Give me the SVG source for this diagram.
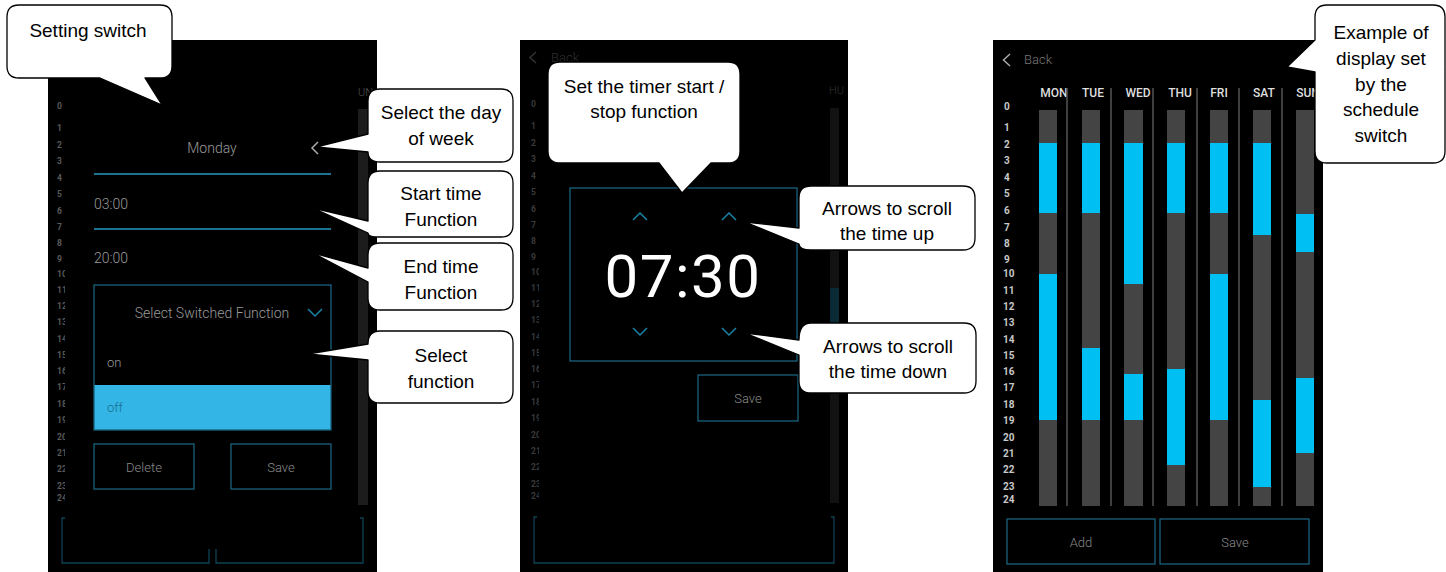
<svg xmlns="http://www.w3.org/2000/svg" width="1446" height="572" viewBox="0 0 1446 572">
<defs>
<style>
.scr{fill:#000}
.ui{font-family:Roboto,"Liberation Sans",sans-serif;font-weight:300}
.tl{stroke:#1c7391;stroke-width:2;fill:none}
.ob{stroke:#17627c;stroke-width:1.3;fill:none}
.fr{stroke:#0f4356;stroke-width:1.3;fill:none}
.chev{stroke:#1a84a8;stroke-width:1.5;fill:none}
.num{font-family:Roboto,"Liberation Sans",sans-serif;font-weight:700}
.nl{font-size:8.5px;fill:#5a5a5a}
.nm{font-size:8.5px;fill:#3a3a3a}
.nr{font-size:10px;fill:#c8c8c8}
.day{font-family:Roboto,"Liberation Sans",sans-serif;font-weight:500;font-size:12px;fill:#dedede;text-anchor:middle}
.sep{stroke:#555;stroke-width:1.5}
.bg{fill:#444}
.bl{fill:#00bff2}
.co{fill:#fff;stroke:#000;stroke-width:1.3;stroke-linejoin:round}
.ct{font-family:"Liberation Sans",Arial,sans-serif;font-size:19px;fill:#000;text-anchor:middle}
</style>
<clipPath id="cl"><rect x="48" y="95" width="17" height="415"/></clipPath>
<clipPath id="cm"><rect x="520" y="95" width="19" height="415"/></clipPath>
</defs>
<rect width="1446" height="572" fill="#fff"/>

<!-- Left panel -->
<g id="panel-setting">
<rect class="scr" x="48" y="40" width="329" height="532"/>
<g class="num nl" clip-path="url(#cl)">
<text x="57" y="109">0</text><text x="57" y="131">1</text><text x="57" y="148">2</text><text x="57" y="164">3</text><text x="57" y="181">4</text><text x="57" y="197">5</text><text x="57" y="214">6</text><text x="57" y="230">7</text><text x="57" y="246">8</text><text x="57" y="262">9</text><text x="57" y="277">10</text><text x="57" y="293">11</text><text x="57" y="309">12</text><text x="57" y="325">13</text><text x="57" y="342">14</text><text x="57" y="358">15</text><text x="57" y="374">16</text><text x="57" y="390">17</text><text x="57" y="407">18</text><text x="57" y="423">19</text><text x="57" y="440">20</text><text x="57" y="456">21</text><text x="57" y="472">22</text><text x="57" y="489">23</text><text x="57" y="501">24</text>
</g>
<text class="ui" x="358" y="96" font-size="11" fill="#555" font-weight="400">UN</text>
<rect x="358" y="109" width="10" height="396" fill="#1c1c1c"/>
<text class="ui" x="212" y="153" font-size="14" fill="#9a9a9a" text-anchor="middle">Monday</text>
<path d="M318,142 L312,148 L318,154" stroke="#aaa" stroke-width="1.5" fill="none"/>
<line class="tl" x1="94" y1="174" x2="331" y2="174"/>
<text class="ui" x="94" y="209" font-size="14" fill="#9a9a9a">03:00</text>
<line class="tl" x1="94" y1="229" x2="331" y2="229"/>
<text class="ui" x="94" y="263" font-size="14" fill="#9a9a9a">20:00</text>
<rect x="94" y="385" width="237" height="45" fill="#33b5e5"/>
<rect class="ob" x="94" y="285" width="237" height="145"/>
<text class="ui" x="212" y="318" font-size="14" fill="#9a9a9a" text-anchor="middle">Select Switched Function</text>
<path class="chev" d="M308,309 L315,316 L322,309"/>
<text class="ui" x="107" y="367" font-size="13" fill="#9a9a9a">on</text>
<text class="ui" x="107" y="412" font-size="13" fill="#1a6f90">off</text>
<rect class="ob" x="94" y="444" width="100" height="45"/>
<text class="ui" x="144" y="472" font-size="13" fill="#8a8a8a" text-anchor="middle">Delete</text>
<rect class="ob" x="231" y="444" width="100" height="45"/>
<text class="ui" x="281" y="472" font-size="13" fill="#8a8a8a" text-anchor="middle">Save</text>
<path class="fr" d="M65,518 H62 V563 H209 V549 M216,549 V563 H363 V518 H360"/>
</g>

<!-- Middle panel -->
<g id="panel-timer">
<rect class="scr" x="520" y="40" width="328" height="532"/>
<path d="M536,52 L530,57.5 L536,63" stroke="#333" stroke-width="1.5" fill="none"/>
<text class="ui" x="551" y="62" font-size="13" fill="#2e2e2e" font-weight="400">Back</text>
<g class="num nm" clip-path="url(#cm)">
<text x="531" y="107">0</text><text x="531" y="129">1</text><text x="531" y="146">2</text><text x="531" y="162">3</text><text x="531" y="179">4</text><text x="531" y="195">5</text><text x="531" y="212">6</text><text x="531" y="228">7</text><text x="531" y="244">8</text><text x="531" y="260">9</text><text x="531" y="275">10</text><text x="531" y="291">11</text><text x="531" y="307">12</text><text x="531" y="323">13</text><text x="531" y="340">14</text><text x="531" y="356">15</text><text x="531" y="372">16</text><text x="531" y="388">17</text><text x="531" y="405">18</text><text x="531" y="421">19</text><text x="531" y="438">20</text><text x="531" y="454">21</text><text x="531" y="470">22</text><text x="531" y="487">23</text><text x="531" y="499">24</text>
</g>
<text class="ui" x="829" y="94" font-size="11" fill="#333" font-weight="400">HU</text>
<rect x="830" y="108" width="9" height="395" fill="#121212"/>
<rect x="830" y="288" width="9" height="42" fill="#0a2a35"/>
<rect class="ob" x="570" y="188" width="227" height="173"/>
<path class="chev" d="M633,220 L640,213 L647,220 M722,220 L729,213 L736,220"/>
<text x="683" y="297" font-family="Roboto,'Liberation Sans',sans-serif" font-weight="400" font-size="60" fill="#fff" text-anchor="middle" letter-spacing="1.5">07:30</text>
<path class="chev" d="M633,328 L640,335 L647,328 M722,328 L729,335 L736,328"/>
<rect class="ob" x="698" y="375" width="100" height="46"/>
<text class="ui" x="748" y="403" font-size="13" fill="#8a8a8a" text-anchor="middle">Save</text>
<path class="fr" d="M537,517 H534 V563 H834 V517 H831"/>
</g>

<!-- Right panel -->
<g id="panel-schedule">
<rect class="scr" x="993" y="40" width="330" height="532"/>
<path d="M1010,54 L1003.5,60 L1010,66" stroke="#aaa" stroke-width="1.5" fill="none"/>
<text class="ui" x="1024" y="64" font-size="13" fill="#777" font-weight="400">Back</text>
<text class="day" x="1054" y="97">MON</text><text class="day" x="1093" y="97">TUE</text><text class="day" x="1138" y="97">WED</text><text class="day" x="1180" y="97">THU</text><text class="day" x="1219" y="97">FRI</text><text class="day" x="1264" y="97">SAT</text><text class="day" x="1308" y="97">SUN</text>
<g class="num nr">
<text x="1004" y="110">0</text><text x="1004" y="131">1</text><text x="1004" y="148">2</text><text x="1004" y="164">3</text><text x="1004" y="181">4</text><text x="1004" y="197">5</text><text x="1004" y="214">6</text><text x="1004" y="231">7</text><text x="1004" y="247">8</text><text x="1004" y="263">9</text><text x="1003" y="277">10</text><text x="1003" y="294">11</text><text x="1003" y="310">12</text><text x="1003" y="326">13</text><text x="1003" y="343">14</text><text x="1003" y="359">15</text><text x="1003" y="375">16</text><text x="1003" y="391">17</text><text x="1003" y="408">18</text><text x="1003" y="424">19</text><text x="1003" y="441">20</text><text x="1003" y="457">21</text><text x="1003" y="473">22</text><text x="1003" y="490">23</text><text x="1003" y="503">24</text>
</g>
<g>
<line class="sep" x1="1067" y1="88" x2="1067" y2="506"/><line class="sep" x1="1111" y1="88" x2="1111" y2="506"/><line class="sep" x1="1153" y1="88" x2="1153" y2="506"/><line class="sep" x1="1197" y1="88" x2="1197" y2="506"/><line class="sep" x1="1239" y1="88" x2="1239" y2="506"/><line class="sep" x1="1282" y1="88" x2="1282" y2="506"/>
</g>
<g>
<rect class="bg" x="1039" y="110" width="18" height="396"/><rect class="bl" x="1039" y="143" width="18" height="70"/><rect class="bl" x="1039" y="274" width="18" height="146"/>
<rect class="bg" x="1082" y="110" width="18" height="396"/><rect class="bl" x="1082" y="143" width="18" height="70"/><rect class="bl" x="1082" y="348" width="18" height="72"/>
<rect class="bg" x="1124" y="110" width="19" height="396"/><rect class="bl" x="1124" y="143" width="19" height="141"/><rect class="bl" x="1124" y="374" width="19" height="46"/>
<rect class="bg" x="1167" y="110" width="18" height="396"/><rect class="bl" x="1167" y="143" width="18" height="70"/><rect class="bl" x="1167" y="369" width="18" height="96"/>
<rect class="bg" x="1210" y="110" width="18" height="396"/><rect class="bl" x="1210" y="143" width="18" height="70"/><rect class="bl" x="1210" y="274" width="18" height="146"/>
<rect class="bg" x="1253" y="110" width="18" height="396"/><rect class="bl" x="1253" y="143" width="18" height="92"/><rect class="bl" x="1253" y="400" width="18" height="87"/>
<rect class="bg" x="1296" y="110" width="18" height="396"/><rect class="bl" x="1296" y="214" width="18" height="38"/><rect class="bl" x="1296" y="378" width="18" height="75"/>
</g>
<rect class="ob" x="1007" y="519" width="148" height="45"/>
<text class="ui" x="1081" y="547" font-size="13" fill="#888" text-anchor="middle">Add</text>
<rect class="ob" x="1160" y="519" width="149" height="45"/>
<text class="ui" x="1235" y="547" font-size="13" fill="#888" text-anchor="middle">Save</text>
</g>

<g id="connectors"></g>

<!-- Callouts -->
<g id="callout-setting-switch">
<path class="co" d="M19,5 H160 Q172,5 172,17 V66 Q172,78 160,78 H145 L162,105 L100,78 H19 Q7,78 7,66 V17 Q7,5 19,5 Z"/>
<text class="ct" x="88" y="37">Setting switch</text>
</g>
<g id="callout-day">
<path class="co" d="M380,89 H501 Q513,89 513,101 V150 Q513,162 501,162 H380 Q368,162 368,152 L316,147 L368,134 V101 Q368,89 380,89 Z"/>
<text class="ct" x="441" y="119">Select the day</text>
<text class="ct" x="441" y="145">of week</text>
</g>
<g id="callout-start">
<path class="co" d="M380,171 H501 Q513,171 513,183 V225 Q513,237 501,237 H378 Q368,237 368,233 L313,208 L368,221 V183 Q368,171 380,171 Z"/>
<text class="ct" x="441" y="200">Start time</text>
<text class="ct" x="441" y="226">Function</text>
</g>
<g id="callout-end">
<path class="co" d="M380,243 H501 Q513,243 513,255 V298 Q513,310 501,310 H380 Q368,310 368,298 V282 L313,253 L368,268 V255 Q368,243 380,243 Z"/>
<text class="ct" x="441" y="273">End time</text>
<text class="ct" x="441" y="299">Function</text>
</g>
<g id="callout-function">
<path class="co" d="M380,331 H501 Q513,331 513,343 V391 Q513,403 501,403 H380 Q368,403 368,391 V360 L308,354 L368,344 Q368,331 380,331 Z"/>
<text class="ct" x="441" y="362">Select</text>
<text class="ct" x="441" y="388">function</text>
</g>
<g id="callout-timer">
<path class="co" d="M560,62 H728 Q740,62 740,74 V151 Q740,163 728,163 H711 L682,193 L659,163 H560 Q548,163 548,151 V74 Q548,62 560,62 Z"/>
<text class="ct" x="644" y="93">Set the timer start /</text>
<text class="ct" x="644" y="118">stop function</text>
</g>
<g id="callout-up">
<path class="co" d="M811,186 H963 Q975,186 975,198 V238 Q975,250 963,250 H811 Q799,250 799,244 L745,222 L799,228 V198 Q799,186 811,186 Z"/>
<text class="ct" x="887" y="215">Arrows to scroll</text>
<text class="ct" x="887" y="240">the time up</text>
</g>
<g id="callout-down">
<path class="co" d="M811,323 H964 Q976,323 976,335 V381 Q976,393 964,393 H811 Q799,393 799,381 V355 L745,333 L799,340 Q799,323 811,323 Z"/>
<text class="ct" x="888" y="353">Arrows to scroll</text>
<text class="ct" x="888" y="378">the time down</text>
</g>
<g id="callout-example">
<path class="co" d="M1327,5 H1433 Q1445,5 1445,17 V151 Q1445,163 1433,163 H1327 Q1315,163 1315,151 V72 L1287,67 L1315,40 V17 Q1315,5 1327,5 Z"/>
<text class="ct" x="1381" y="39">Example of</text>
<text class="ct" x="1381" y="65">display set</text>
<text class="ct" x="1381" y="91">by the</text>
<text class="ct" x="1381" y="116">schedule</text>
<text class="ct" x="1381" y="142">switch</text>
</g>
</svg>
